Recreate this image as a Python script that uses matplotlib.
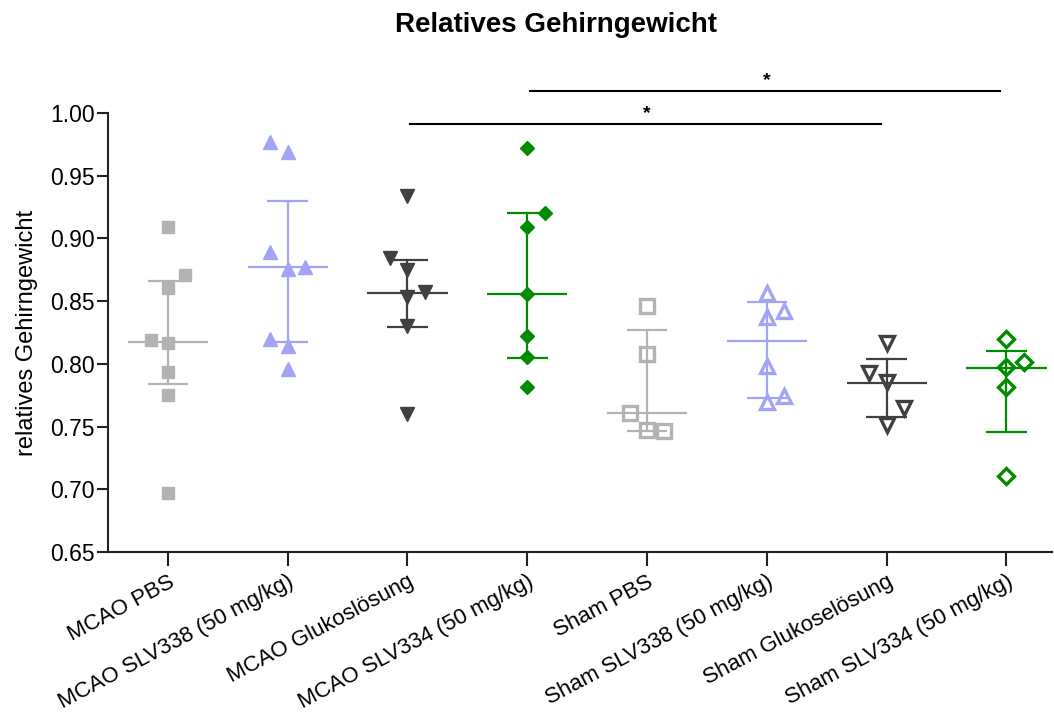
import matplotlib
matplotlib.use("Agg")
import matplotlib.pyplot as plt
import numpy as np

plt.rcParams['font.family'] = ['Liberation Sans', 'DejaVu Sans']

categories = ["MCAO PBS", "MCAO SLV338 (50 mg/kg)", "MCAO Glukoslösung",
              "MCAO SLV334 (50 mg/kg)", "Sham PBS", "Sham SLV338 (50 mg/kg)",
              "Sham Glukoselösung", "Sham SLV334 (50 mg/kg)"]

vals_mcao_pbs = [0.9088, 0.8708, 0.8604, 0.8192, 0.8163, 0.7932, 0.7749, 0.6973]
vals_mcao_338 = [0.977, 0.969, 0.889, 0.876, 0.877, 0.8196, 0.814, 0.796]
vals_mcao_glu = [0.934, 0.884, 0.875, 0.8576, 0.853, 0.830, 0.760]
vals_mcao_334 = [0.972, 0.920, 0.909, 0.8557, 0.8222, 0.8052, 0.7818]
vals_sham_pbs = [0.8464, 0.8078, 0.761, 0.7472, 0.7467]
vals_sham_338 = [0.8567, 0.8376, 0.8424, 0.7983, 0.7743, 0.7699]
vals_sham_glu = [0.8169, 0.793, 0.7858, 0.7646, 0.7512]
vals_sham_334 = [0.8196, 0.8013, 0.7973, 0.7813, 0.7105]

lanes_mcao_pbs = [0, 1, 0, -1, 0, 0, 0, 0]
lanes_mcao_338 = [-1, 0, -1, 0, 1, -1, 0, 0]
lanes_mcao_glu = [0, -1, 0, 1, 0, 0, 0]
lanes_mcao_334 = [0, 1, 0, 0, 0, 0, 0]
lanes_sham_pbs = [0, 0, -1, 0, 1]
lanes_sham_338 = [0, 0, 1, 0, 1, 0]
lanes_sham_glu = [0, -1, 0, 1, 0]
lanes_sham_334 = [0, 1, 0, 0, 0]

medians = [0.8177, 0.8772, 0.8565, 0.8555, 0.7608, 0.8185, 0.785, 0.797]
err_low = [0.7842, 0.8177, 0.829, 0.805, 0.7464, 0.7727, 0.7574, 0.7456]
err_high = [0.8658, 0.930, 0.883, 0.920, 0.827, 0.8496, 0.8038, 0.8102]

sig_pairs = [(2, 6, 0.9912), (3, 7, 1.0175)]
sig_labels = ["*", "*"]

values = [vals_mcao_pbs, vals_mcao_338, vals_mcao_glu, vals_mcao_334,
          vals_sham_pbs, vals_sham_338, vals_sham_glu, vals_sham_334]
lanes = [lanes_mcao_pbs, lanes_mcao_338, lanes_mcao_glu, lanes_mcao_334,
         lanes_sham_pbs, lanes_sham_338, lanes_sham_glu, lanes_sham_334]

grey = "#b3b3b3"
lav = "#a3a3f7"
dark = "#404040"
green = "#008c00"
colors = [grey, lav, dark, green, grey, lav, dark, green]
markers = ["s", "^", "v", "D", "s", "^", "v", "D"]
msizes = [9, 10, 10, 7, 10, 10, 10, 8]
filled = [True, True, True, True, False, False, False, False]

fig = plt.figure(figsize=(10.54, 7.2), dpi=100)
ax = fig.add_axes([108/1054, 1-552/720, (1052-108)/1054, (552-113)/720])

spread = 0.145
for i, (v, ln) in enumerate(zip(values, lanes)):
    c = colors[i]
    xs = i + spread*np.array(ln)
    ax.plot([i-0.335, i+0.335], [medians[i]]*2, color=c, lw=1.6, zorder=2, solid_capstyle='butt')
    ax.plot([i, i], [err_low[i], err_high[i]], color=c, lw=1.6, zorder=2)
    for e in (err_low[i], err_high[i]):
        ax.plot([i-0.17, i+0.17], [e, e], color=c, lw=1.6, zorder=2, solid_capstyle='butt')
    if filled[i]:
        ax.plot(xs, v, linestyle='none', marker=markers[i], ms=msizes[i],
                color=c, mec=c, zorder=3, clip_on=False)
    else:
        ax.plot(xs, v, linestyle='none', marker=markers[i], ms=msizes[i],
                mfc='none', mec=c, mew=2.4, zorder=3, clip_on=False)

for (a, b, y), lab in zip(sig_pairs, sig_labels):
    ax.plot([a+0.02, b-0.05], [y, y], color='black', lw=1.5, clip_on=False)
    ax.text((a+b)/2, y+0.0012, lab, ha='center', va='bottom', fontsize=14, fontweight='bold')

ax.set_xlim(-0.5, 7.38)
ax.set_ylim(0.65, 1.0)
ticks = np.arange(0.65, 1.0001, 0.05)
ax.set_yticks(ticks)
ax.set_yticklabels([f"{t:.2f}" for t in ticks])
ax.set_xticks(range(len(categories)))
ax.set_xticklabels(categories, rotation=28, ha='right', rotation_mode='anchor')
for s in ('top', 'right'):
    ax.spines[s].set_visible(False)
for s in ('left', 'bottom'):
    ax.spines[s].set_linewidth(1.5)
    ax.spines[s].set_color('#222222')
ax.tick_params(axis='y', length=8, width=1.5, labelsize=16.5, pad=1.5, color='#222222')
ax.tick_params(axis='x', length=10, width=1.5, labelsize=16, pad=4, color='#222222')
ax.set_ylabel("relatives Gehirngewicht", fontsize=17, labelpad=9)

fig.text(556/1054, 1-25/720, "Relatives Gehirngewicht", ha='center', va='center',
         fontsize=20, fontweight='bold')

fig.savefig("out.png", dpi=100)
